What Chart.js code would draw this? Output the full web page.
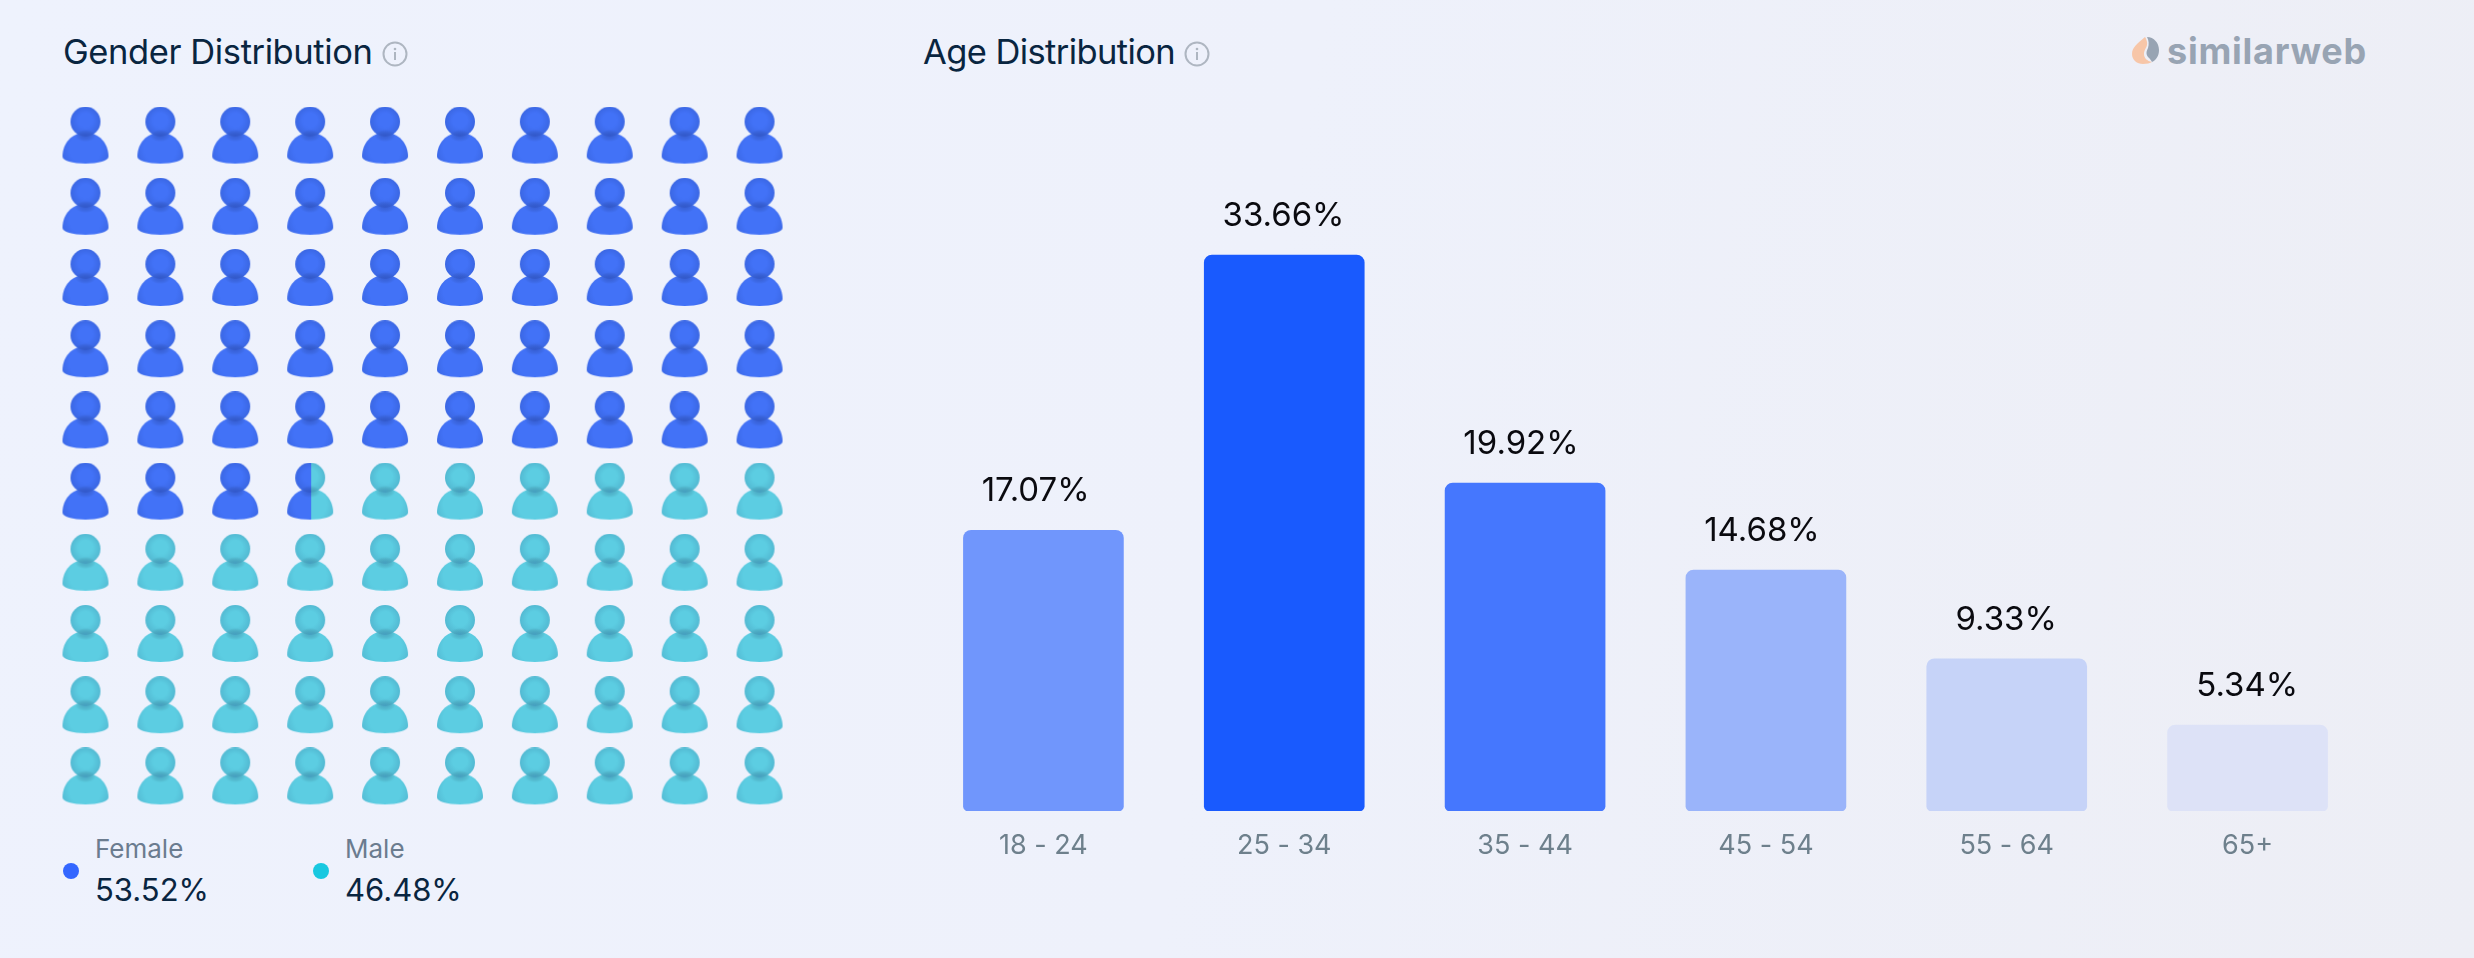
<!DOCTYPE html>
<html><head><meta charset="utf-8">
<script src="https://cdn.jsdelivr.net/npm/chart.js@4"></script>
<style>
html,body{margin:0;padding:0}
body{width:2474px;height:958px;position:relative;overflow:hidden;background:linear-gradient(100deg,#EEF2FD 0%,#EEF1FB 50%,#EDEEF5 100%);font-family:Inter,sans-serif}
canvas{position:absolute}
.t{position:absolute;white-space:nowrap;line-height:1}
.title{font-size:34.5px;color:#092540;letter-spacing:-.4px}
.lab{font-size:26px;color:#6B7C8F}
.val{font-size:31px;color:#092540}
.dot{position:absolute;width:16px;height:16px;border-radius:50%}
svg{position:absolute}
</style></head><body>
<div class="t title" id="titleGender" style="left:63px;top:35px">Gender Distribution</div>
<div class="t title" id="titleAge" style="left:923px;top:35px;letter-spacing:-.6px">Age Distribution</div>
<svg style="left:382px;top:41px" width="26" height="26" viewBox="0 0 26 26"><circle cx="13" cy="13" r="11.5" fill="none" stroke="#AEB6C1" stroke-width="2"/><rect x="12" y="11" width="2" height="8" fill="#AEB6C1"/><circle cx="13" cy="8" r="1.3" fill="#AEB6C1"/></svg>
<svg style="left:1184px;top:41px" width="26" height="26" viewBox="0 0 26 26"><circle cx="13" cy="13" r="11.5" fill="none" stroke="#AEB6C1" stroke-width="2"/><rect x="12" y="11" width="2" height="8" fill="#AEB6C1"/><circle cx="13" cy="8" r="1.3" fill="#AEB6C1"/></svg>
<canvas id="waffle" width="749" height="712" style="left:48px;top:100px;width:749px;height:712px"></canvas>
<canvas id="bars" width="1445" height="780" style="left:923px;top:100px;width:1445px;height:780px"></canvas>
<div class="dot" style="left:63px;top:863px;background:#3366FF"></div>
<div class="dot" style="left:313px;top:863px;background:#18C8E0"></div>
<div class="t lab" id="l0" style="left:95px;top:836px"></div>
<div class="t val" id="v0" style="left:95px;top:874px"></div>
<div class="t lab" id="l1" style="left:345px;top:836px"></div>
<div class="t val" id="v1" style="left:345px;top:874px"></div>
<svg style="left:2130px;top:35px" width="30" height="30" viewBox="0 0 30 30"><path d="M15 2C8 8 2 12 2 19c0 6 5 10 11 10 4 0 7-1 9-2-5-1-8-4-8-8 0-5 4-7 3-12-.5-2-1-4-2-5z" fill="#F7C6A8"/><path d="M17 2c7 0 12 6 12 13 0 6-3 10-7 12-1-2-2-3-4-5-2-3-2-5 0-9 1-4 1-7-1-11z" fill="#98A4B3"/></svg>
<div class="t" id="logo" style="left:2167px;top:29px;font:700 36px Inter,sans-serif;color:#98A4B3;letter-spacing:.75px">similarweb</div>
<script>
const genderLabels = ['Female', 'Male'];
const genderValues = [53.52, 46.48];
const ageLabels = ['18 - 24', '25 - 34', '35 - 44', '45 - 54', '55 - 64', '65+'];
const ageValues = [17.07, 33.66, 19.92, 14.68, 9.33, 5.34];
const ageColors = ['#7096FC', '#195AFE', '#4577FE', '#9AB4FA', '#C6D3F8', '#DDE2F7'];

genderLabels.forEach((l, i) => {
  document.getElementById('l' + i).textContent = l;
  document.getElementById('v' + i).textContent = genderValues[i].toFixed(2) + '%';
});

function personLayer(light, dark, shade) {
  const c = document.createElement('canvas'); c.width = 48; c.height = 58;
  const x = c.getContext('2d');
  const body = new Path2D('M1 50C1 37 10 26 24 26C38 26 47 37 47 50C47 54 37 57 24 57C11 57 1 54 1 50Z');
  let g = x.createRadialGradient(24, 42, 8, 24, 42, 27);
  g.addColorStop(0, light); g.addColorStop(.45, light); g.addColorStop(1, dark);
  x.fillStyle = g; x.fill(body);
  g = x.createRadialGradient(24, 13, 2, 24, 15, 15.5);
  g.addColorStop(0, light); g.addColorStop(.4, light); g.addColorStop(1, dark);
  x.fillStyle = g; x.beginPath(); x.arc(24, 15, 15, 0, Math.PI * 2); x.fill();
  x.save();
  x.globalCompositeOperation = 'source-atop';
  x.translate(24, 29); x.scale(1.7, 1);
  g = x.createRadialGradient(0, 0, 0, 0, 0, 6);
  g.addColorStop(0, shade); g.addColorStop(1, 'rgba(0,0,0,0)');
  x.fillStyle = g; x.fillRect(-16, -6, 32, 12);
  x.restore();
  return c;
}
const femaleIcon = personLayer('#4272F7', '#3A66E2', 'rgba(25,45,130,.25)');
const maleIcon = personLayer('#5CCDE2', '#52B8D1', 'rgba(35,90,150,.28)');
function splitIcon(fraction) {
  const c = document.createElement('canvas'); c.width = 48; c.height = 58;
  const x = c.getContext('2d'), w = 1 + 46 * fraction;
  x.drawImage(maleIcon, 0, 0);
  x.clearRect(0, 0, w, 58);
  x.save(); x.beginPath(); x.rect(0, 0, w, 58); x.clip(); x.drawImage(femaleIcon, 0, 0); x.restore();
  return c;
}
const cols = 10, rows = 10;
const whole = Math.floor(genderValues[0]), frac = genderValues[0] - whole;
const femaleCells = [], splitCells = [], maleCells = [];
for (let i = 0; i < cols * rows; i++) {
  const cell = { x: i % cols + 1, y: Math.floor(i / cols) + 1 };
  (i < whole ? femaleCells : i === whole ? splitCells : maleCells).push(cell);
}
const noPlugins = { legend: { display: false }, tooltip: { enabled: false }, title: { display: false } };
new Chart(document.getElementById('waffle'), {
  type: 'scatter',
  data: { datasets: [
    { label: genderLabels[0], data: femaleCells, pointStyle: femaleIcon },
    { label: 'Split', data: splitCells, pointStyle: splitIcon(frac) },
    { label: genderLabels[1], data: maleCells, pointStyle: maleIcon }
  ] },
  options: {
    responsive: false, animation: false, devicePixelRatio: 1, events: [],
    plugins: noPlugins,
    layout: { padding: 0, autoPadding: false },
    scales: {
      x: { display: false, min: .5, max: 10.5 },
      y: { display: false, min: .5, max: 10.5, reverse: true }
    }
  }
});
const barValueLabels = {
  id: 'barValueLabels',
  afterDatasetsDraw(chart) {
    const ctx = chart.ctx, meta = chart.getDatasetMeta(0);
    ctx.save();
    ctx.font = '400 33px Inter'; ctx.fillStyle = '#0A0A0F';
    ctx.textAlign = 'left'; ctx.textBaseline = 'alphabetic';
    meta.data.forEach((b, i) => {
      const s = ageValues[i].toFixed(2) + '%';
      const nominal = ctx.measureText(s.replace(/\d/g, '0')).width;
      ctx.fillText(s, b.x - nominal / 2, b.y - 29);
    });
    ctx.restore();
  }
};
new Chart(document.getElementById('bars'), {
  type: 'bar',
  data: { labels: ageLabels, datasets: [{
    data: ageValues, backgroundColor: ageColors, barThickness: 160,
    base: .16,
    borderSkipped: false,
    borderRadius: { topLeft: 8, topRight: 8, bottomLeft: 5, bottomRight: 5 }
  }] },
  options: {
    responsive: false, animation: false, devicePixelRatio: 1, events: [],
    plugins: noPlugins,
    layout: { padding: 0, autoPadding: false },
    scales: {
      y: { display: false, min: .16, max: 43 },
      x: {
        grid: { display: false }, border: { display: false },
        afterFit(s) { s.height = 69; },
        ticks: { color: '#6E808C', font: { family: 'Inter', size: 27 }, padding: 11, maxRotation: 0 }
      }
    }
  },
  plugins: [barValueLabels]
});
</script>
</body></html>
